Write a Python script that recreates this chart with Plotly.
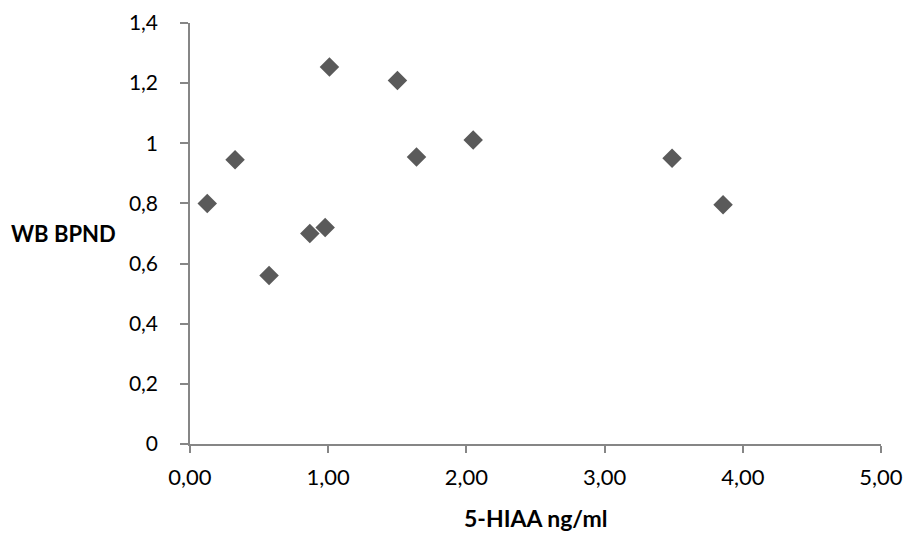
import plotly.graph_objects as go

# Data
hiaa = [0.125, 0.326, 0.572, 0.867, 0.978, 1.009, 1.501, 1.639, 2.049, 3.488, 3.857]
wb_bpnd = [0.800, 0.945, 0.560, 0.700, 0.720, 1.254, 1.209, 0.954, 1.011, 0.950, 0.796]

x_ticks = [0, 1, 2, 3, 4, 5]
x_tick_labels = ["0,00", "1,00", "2,00", "3,00", "4,00", "5,00"]
y_ticks = [0, 0.2, 0.4, 0.6, 0.8, 1.0, 1.2, 1.4]
y_tick_labels = ["0", "0,2", "0,4", "0,6", "0,8", "1", "1,2", "1,4"]

FONT = "Lato, 'Open Sans', sans-serif"
AXIS_COLOR = "#868686"

fig = go.Figure()
fig.add_trace(go.Scatter(
    x=hiaa, y=wb_bpnd, mode="markers",
    marker=dict(symbol="diamond", size=15, color="#5a5a5a", line=dict(width=0)),
    showlegend=False,
))

fig.update_layout(
    width=911, height=537,
    margin=dict(l=182, r=38, t=15, b=101, autoexpand=False),
    paper_bgcolor="white", plot_bgcolor="white",
    font=dict(family=FONT, size=22, color="#000000"),
    xaxis=dict(
        range=[0, 5], tickvals=x_ticks, ticktext=x_tick_labels, automargin=False,
        showgrid=False, zeroline=False, showline=True, linecolor=AXIS_COLOR, linewidth=1.5,
        ticks="outside", ticklen=7, tickcolor=AXIS_COLOR, tickwidth=1.5,
        ticklabelstandoff=6, ticklabeloverflow="allow",
    ),
    yaxis=dict(
        range=[0, 1.4], tickvals=y_ticks, ticktext=y_tick_labels, automargin=False,
        showgrid=False, zeroline=False, showline=True, linecolor=AXIS_COLOR, linewidth=1.5,
        ticks="outside", ticklen=8, tickcolor=AXIS_COLOR, tickwidth=1.5,
        ticklabelstandoff=18, ticklabeloverflow="allow", tickfont=dict(size=21),
    ),
    annotations=[
        dict(text="<b>WB BPND</b>", xref="paper", yref="paper", x=-0.104, y=0.5,
             xanchor="right", yanchor="middle", showarrow=False, font=dict(size=22)),
        dict(text="<b>5-HIAA ng/ml</b>", xref="paper", yref="paper", x=0.5, y=-0.175,
             xanchor="center", yanchor="middle", showarrow=False, font=dict(size=23)),
    ],
)

fig.write_html("out.html")
